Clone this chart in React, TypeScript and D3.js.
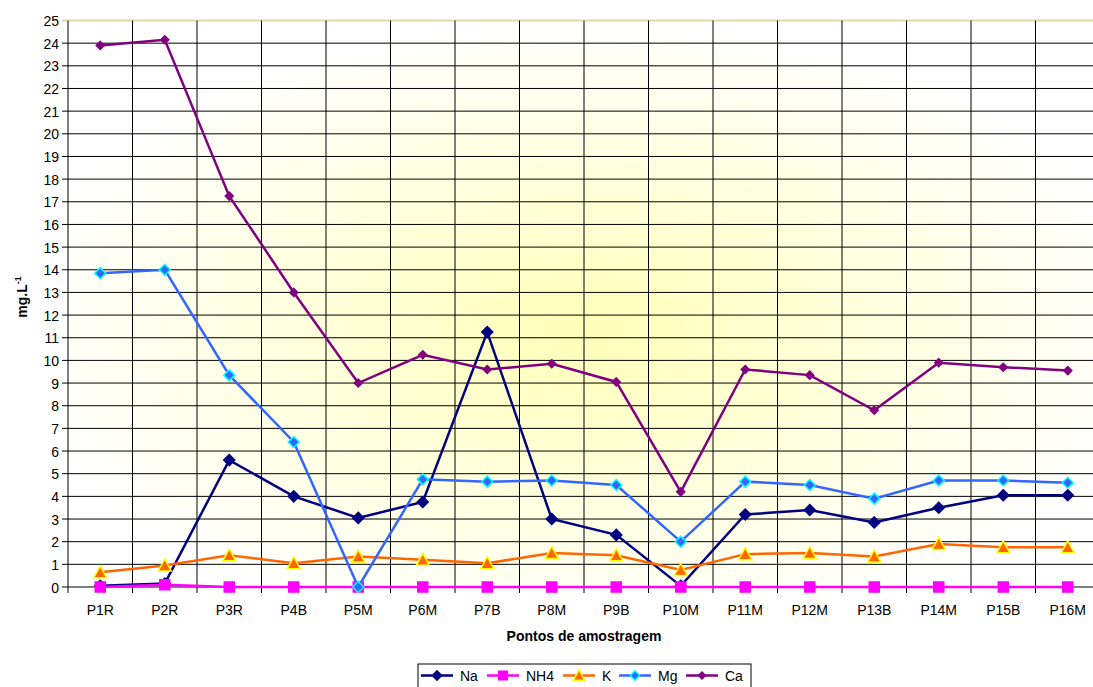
import React from 'react'
import * as d3 from 'd3'

const pontos = ['P1R', 'P2R', 'P3R', 'P4B', 'P5M', 'P6M', 'P7B', 'P8M', 'P9B', 'P10M', 'P11M', 'P12M', 'P13B', 'P14M', 'P15B', 'P16M']
const na = [0.05, 0.15, 5.6, 4.0, 3.05, 3.75, 11.25, 3.0, 2.3, 0.05, 3.2, 3.4, 2.85, 3.5, 4.05, 4.05]
const nh4 = [0, 0.1, 0, 0, 0, 0, 0, 0, 0, 0, 0, 0, 0, 0, 0, 0]
const k = [0.65, 0.95, 1.4, 1.05, 1.35, 1.2, 1.05, 1.5, 1.4, 0.75, 1.45, 1.5, 1.35, 1.9, 1.75, 1.75]
const mg = [13.85, 14.0, 9.35, 6.4, 0, 4.75, 4.65, 4.7, 4.5, 2.0, 4.65, 4.5, 3.9, 4.7, 4.7, 4.6]
const ca = [23.9, 24.15, 17.25, 13.0, 9.0, 10.25, 9.6, 9.85, 9.05, 4.2, 9.6, 9.35, 7.8, 9.9, 9.7, 9.55]
const yTicks = d3.range(0, 26)

// series styles
const series = [
  { name: 'Na', values: na, line: '#000080', fill: '#000080', stroke: '#000080', shape: 'diamond', size: 11 },
  { name: 'NH4', values: nh4, line: '#FF00FF', fill: '#FF00FF', stroke: '#FF00FF', shape: 'square', size: 10 },
  { name: 'K', values: k, line: '#FF6600', fill: '#FF6600', stroke: '#FFFF00', shape: 'triangle', size: 11 },
  { name: 'Mg', values: mg, line: '#3366FF', fill: '#3366FF', stroke: '#00FFFF', shape: 'diamond', size: 11 },
  { name: 'Ca', values: ca, line: '#800080', fill: '#800080', stroke: '#800080', shape: 'diamond', size: 8 },
]

function marker(shape: string, s: number) {
  const h = s / 2
  if (shape === 'diamond') return `M0,${-h}L${h},0L0,${h}L${-h},0Z`
  if (shape === 'square') return `M${-h},${-h}H${h}V${h}H${-h}Z`
  return `M0,${-h - 1}L${h + 1},${h}L${-h - 1},${h}Z`
}

export default function App() {
  const W = 1093, H = 687
  // the plot runs past the right edge of the picture, as in the original
  const left = 68, right = 1100, top = 20.5, bottom = 587
  const x = d3.scaleBand().domain(pontos).range([left, right])
  const y = d3.scaleLinear().domain([0, 25]).range([bottom, top])
  const cx = (p: string) => (x(p) as number) + x.bandwidth() / 2
  const line = d3.line<number>().x((_, i) => cx(pontos[i])).y(d => y(d))
  const font = 'Arial, "Liberation Sans", sans-serif'

  const legX = 418, legY = 664
  const legPos = [421, 487, 563, 619, 686]

  return (
    <svg width={W} height={H} style={{ position: 'absolute', left: 0, top: 0 }} fontFamily={font}>
      <defs>
        <radialGradient id="bg" cx="0.5" cy="0.55" r="0.55">
          <stop offset="0" stopColor="#FFFFB8" />
          <stop offset="0.5" stopColor="#FFFFDD" />
          <stop offset="1" stopColor="#FFFFFF" />
        </radialGradient>
      </defs>
      <rect x={left} y={top} width={right - left} height={bottom - top} fill="url(#bg)" />
      {yTicks.map(t => (
        <g key={t}>
          <line x1={left - 6} x2={right} y1={y(t)} y2={y(t)} stroke={t === 25 ? '#DCDCAA' : '#000'} strokeWidth={t === 25 ? 2 : 1} />
          <text x={left - 9} y={y(t) + 5.5} textAnchor="end" fontSize={14}>{t}</text>
        </g>
      ))}
      {d3.range(0, pontos.length + 1).map(i => {
        const xx = left + i * x.bandwidth()
        return <line key={i} x1={xx} x2={xx} y1={top} y2={bottom + 6} stroke="#000" strokeWidth={1} />
      })}
      {pontos.map(p => (
        <text key={p} x={cx(p)} y={bottom + 28} textAnchor="middle" fontSize={14}>{p}</text>
      ))}
      {series.map(s => (
        <g key={s.name}>
          <path d={line(s.values) as string} fill="none" stroke={s.line} strokeWidth={2.5} />
          {s.values.map((v, i) => (
            <path key={i} d={marker(s.shape, s.size)} transform={`translate(${cx(pontos[i])},${y(v)})`}
              fill={s.fill} stroke={s.stroke} strokeWidth={1.5} />
          ))}
        </g>
      ))}
      <text x={(left + right) / 2} y={641} textAnchor="middle" fontSize={14} fontWeight="bold">Pontos de amostragem</text>
      <text transform={`translate(27,297) rotate(-90)`} textAnchor="middle" fontSize={14} fontWeight="bold">
        mg.L<tspan dy={-6} fontSize={9}>-1</tspan>
      </text>
      <rect x={legX} y={legY} width={333} height={30} fill="#fff" stroke="#000" strokeWidth={1} />
      {series.map((s, i) => {
        const x0 = legPos[i]
        const my = legY + 11.5
        return (
          <g key={s.name}>
            <line x1={x0} x2={x0 + 32} y1={my} y2={my} stroke={s.line} strokeWidth={2.5} />
            <path d={marker(s.shape, s.size * 0.85)} transform={`translate(${x0 + 16},${my})`} fill={s.fill} stroke={s.stroke} strokeWidth={1.5} />
            <text x={x0 + 39} y={my + 5} fontSize={14}>{s.name}</text>
          </g>
        )
      })}
    </svg>
  )
}
